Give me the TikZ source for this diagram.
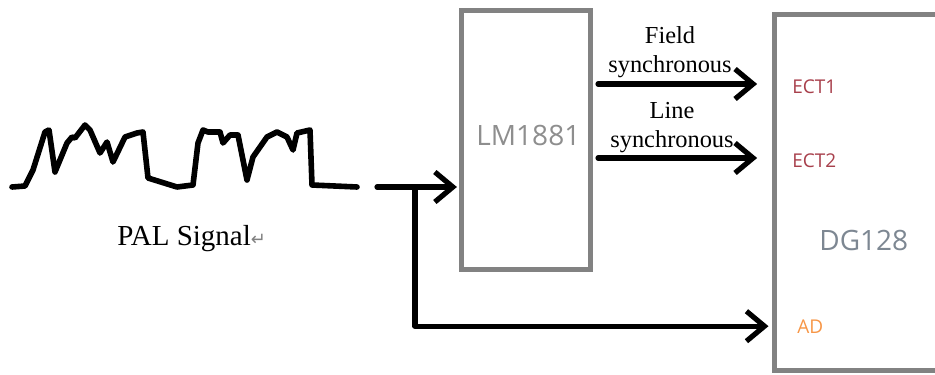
\documentclass[tikz,border=0pt]{standalone}
\usepackage{fontspec}
\setmainfont{Liberation Serif}
\newfontfamily\chipfont{Open Sans}
\newfontfamily\symfont{DejaVu Sans}
\usetikzlibrary{arrows.meta, positioning}
\definecolor{boxgray}{HTML}{828282}
\definecolor{lmgray}{HTML}{8E8E8E}
\definecolor{dggray}{HTML}{7D8792}
\definecolor{pinred}{HTML}{A8404C}
\definecolor{pinorange}{HTML}{F79646}

\begin{document}
\begin{tikzpicture}[x=0.5pt, y=-0.5pt,
  chip/.style={draw=boxgray, line width=2.5pt, inner sep=0pt},
  sig/.style={line width=2.6pt, line cap=round, line join=round, -{Straight Barb[length=9pt, width=15pt]}},
  pin/.style={font=\chipfont\fontsize{9.5}{11}\selectfont, anchor=base west, inner sep=0pt},
  chipname/.style={font=\chipfont\fontsize{14}{16}\selectfont, anchor=base west, inner sep=0pt},
  caption/.style={font=\fontsize{12.2}{14.5}\selectfont, align=center, inner sep=0pt, anchor=south}]
  \clip (0,0) rectangle (935,374);
  % bausteine
  \node[chip, minimum width=64.5pt, minimum height=129pt] (lm) at (525.5,140) {};
  \node[chip, minimum width=113pt, minimum height=177.5pt] (dg) at (887,192.5) {};
  \node[chipname, text=lmgray] (lmname) at (476,145) {LM1881};
  \node[chipname, text=dggray] (dgname) at (819,250) {DG128};
  \node[pin, text=pinred] (ect1) at (792,93) {ECT1};
  \node[pin, text=pinred] (ect2) at (792,167) {ECT2};
  \node[pin, text=pinorange] (ad) at (797,333) {AD};
  % pal-signal
  \draw[line width=2.8pt, line cap=round, line join=round]
    (12,187) -- (25,186) -- (33,170) -- (45,132) -- (49,130) -- (55,172) -- (67,143)
    -- (72,137) -- (75,138) -- (85,125) -- (90,130) -- (100,153) -- (107,142) -- (113,162)
    -- (125,137) -- (137,133) -- (143,132) -- (148,178) -- (177,187) -- (193,185)
    -- (198,143) -- (203,130) -- (208,132) -- (220,132) -- (223,143) -- (230,135)
    -- (238,135) -- (247,180) -- (253,157) -- (267,137) -- (277,132) -- (287,137)
    -- (293,150) -- (297,133) -- (310,130) -- (312,185) -- (357,187);
  \node[font=\fontsize{14.5}{17}\selectfont, anchor=base west, inner sep=0pt] (pal) at (117,245)
    {PAL Signal{\symfont\color{gray}\fontsize{9}{9}\selectfont ↵}};
  % verbindungen
  \coordinate (in) at (377,187);
  \coordinate (fork) at (415,187);
  \coordinate (field) at (598,84);
  \coordinate (line) at (598,158);
  \draw[sig, shorten >=0.8pt] (in) -- (in -| lm.west);
  \draw[sig, shorten >=1.5pt] (fork) |- (dg.west |- ad.center);
  \draw[sig, shorten >=7.2pt] (field) -- (field -| dg.west);
  \draw[sig, shorten >=7.2pt] (line) -- (line -| dg.west);
  \node[caption] (fieldtxt) at (670,78) {Field\\synchronous};
  \node[caption] (linetxt) at (672,153) {Line\\synchronous};
\end{tikzpicture}
\end{document}
